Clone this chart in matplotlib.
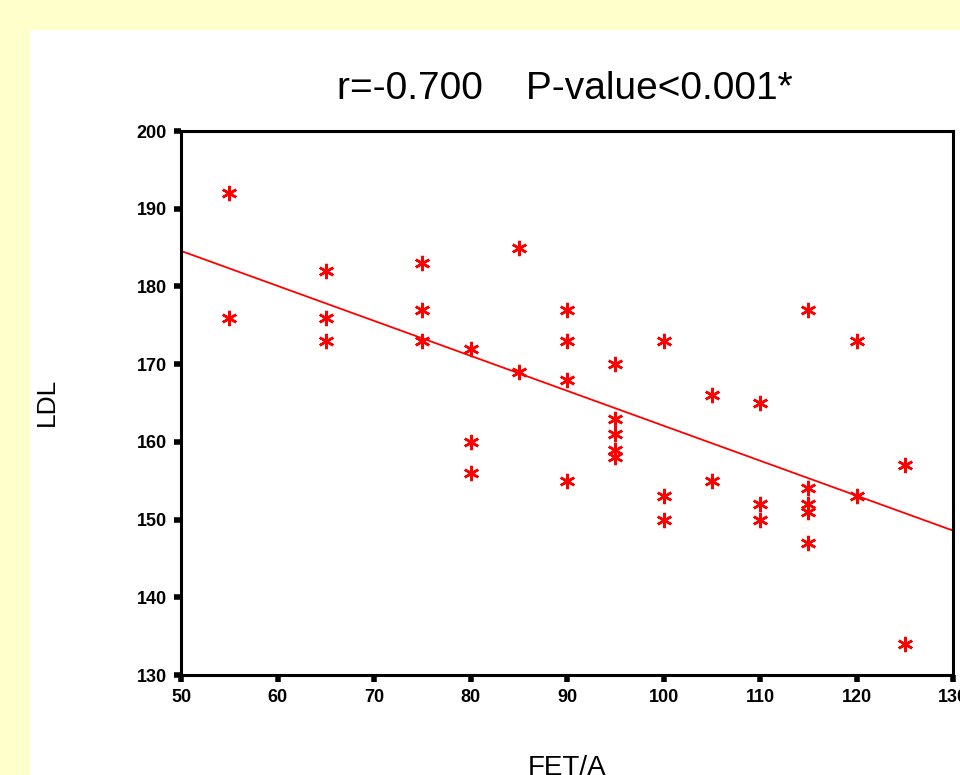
import numpy as np
import matplotlib
matplotlib.use('Agg')
import matplotlib.pyplot as plt

# FET/A vs LDL
fet = [55, 55, 65, 65, 65, 75, 75, 75, 80, 80, 80, 85, 85,
       90, 90, 90, 90, 95, 95, 95, 95, 95, 100, 100, 100,
       105, 105, 110, 110, 110, 115, 115, 115, 115, 115,
       120, 120, 125, 125]
ldl = [192, 176, 182, 176, 173, 183, 177, 173, 172, 160, 156, 185, 169,
       177, 173, 168, 155, 170, 163, 161, 159, 158, 173, 153, 150,
       166, 155, 165, 152, 150, 177, 154, 152, 151, 147,
       173, 153, 157, 134]

title = 'r=-0.700    P-value<0.001*'
xticks = [50, 60, 70, 80, 90, 100, 110, 120, 130]
yticks = [130, 140, 150, 160, 170, 180, 190, 200]

plt.rcParams['font.family'] = ['Liberation Sans', 'DejaVu Sans']

fig = plt.figure(figsize=(9.6, 7.75), dpi=100)
fig.patch.set_facecolor('#FFFFCC')

# white panel behind everything
bg = fig.add_axes([30/960., 0, 1 - 30/960., 1 - 30/775.], zorder=-1)
bg.set_axis_off()
bg.add_patch(plt.Rectangle((0, 0), 1, 1, transform=bg.transAxes, facecolor='white', edgecolor='none'))

ax = fig.add_axes([181/960., 1 - 675/775., (953 - 181)/960., (675 - 131)/775.], zorder=1)
ax.set_xlim(50, 130)
ax.set_ylim(130, 200)

x = np.asarray(fet, dtype=float)
y = np.asarray(ldl, dtype=float)
ax.plot(x, y, linestyle='none', marker=(6, 2, 0), markersize=11,
        markeredgewidth=1.8, color='#FF0000', clip_on=False, zorder=3)

# fit line
b, a = np.polyfit(x, y, 1)
xl = np.array([50., 130.])
ax.plot(xl, a + b * xl, color='#FF0000', linewidth=1.3, zorder=2)

ax.set_xticks(xticks)
ax.set_yticks(yticks)
for s in ax.spines.values():
  s.set_linewidth(2.2)
ax.tick_params(direction='out', length=5, width=4, labelsize=13, pad=5)
for lbl in ax.get_xticklabels() + ax.get_yticklabels():
  lbl.set_fontweight('bold')

fig.text(565/960., 1 - 89/775., title, ha='center', va='center', fontsize=28)
fig.text(567/960., 1 - 755/775., 'FET/A', ha='center', va='top', fontsize=20)
fig.text(47/960., 1 - 402/775., 'LDL', ha='center', va='center', fontsize=19, rotation=90)

fig.savefig('out.png', dpi=100, facecolor=fig.get_facecolor())
